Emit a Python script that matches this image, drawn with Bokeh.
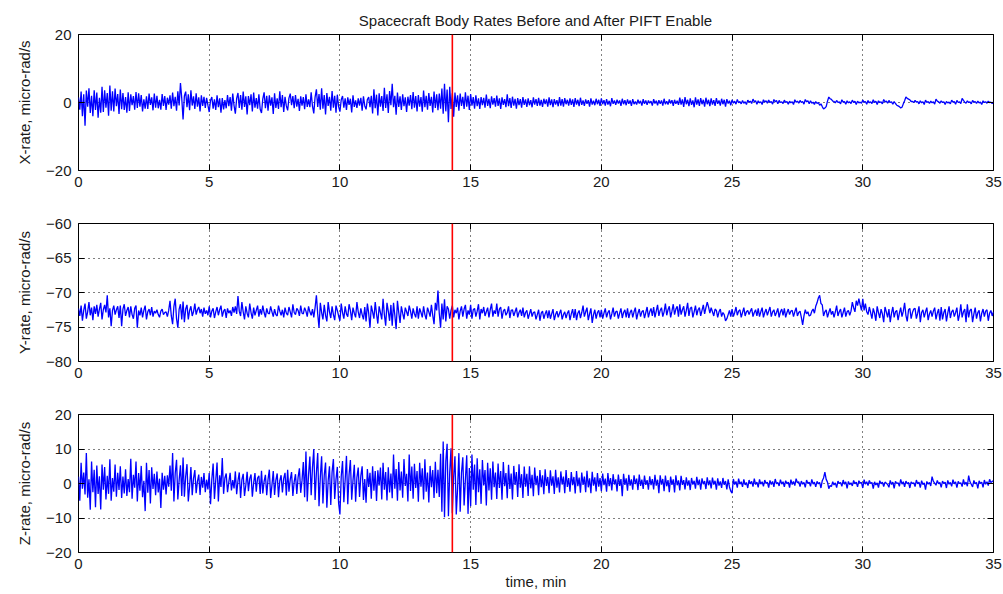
from bokeh.plotting import figure
from bokeh.models import Span, LinearAxis, FixedTicker, Range1d, ColumnDataSource
from bokeh.layouts import column
from bokeh.embed import file_html
from bokeh.resources import INLINE

# ---------------- data (one sample every 0.05 min) ----------------
SAMPLE_STEP_MIN = 0.05
PIFT_ENABLE_MIN = 14.3

# X-rate, micro-rad/s (one row = one minute)
x_rate = [
    1.5, -2.1, 3.2, -4.0, 2.4, -6.8, 3.5, -1.2, 4.2, -3.1, 2.0, -4.0, 3.6, -2.2, 2.9, -4.5, 1.4, -3.0, 4.6, -2.8,
    3.6, -1.5, 2.8, -3.9, 5.0, -2.4, 3.3, -2.6, 4.1, -1.1, 2.5, -3.4, 3.8, -2.0, 2.8, -2.2, 1.6, -3.0, 3.0, -2.5,
    2.4, -0.8, 1.9, -2.1, 3.1, -1.6, 2.7, -1.2, 2.2, -2.6, 0.9, -1.8, 1.8, -1.9, 2.6, -0.7, 1.5, -2.3, 2.6, -1.5,
    2.0, -1.7, 0.8, -2.1, 2.5, -1.0, 1.9, -2.2, 1.4, -0.6, 2.1, -1.8, 2.9, -1.1, 1.7, -2.4, 3.3, -0.9, 5.7, 1.2,
    -5.0, 1.9, 3.2, -1.4, 2.4, -2.3, 3.6, -0.9, 1.8, -1.9, 2.7, -1.2, 1.5, -2.6, 2.1, -1.0, 1.7, -1.6, 1.4, -0.8,
    -2.8, 0.6, 1.6, -1.8, 0.9, -2.2, 2.1, -1.4, 1.2, -3.0, 1.3, -2.0, 0.7, -1.7, 2.2, -1.1, 1.6, -2.4, 2.6, -0.9,
    -3.3, 1.2, 2.8, -1.6, 2.2, -2.1, 3.2, -1.3, 1.8, -3.5, 1.9, -0.8, 2.4, -2.6, 2.9, -1.5, 1.3, -1.8, 2.4, -2.0,
    -3.1, 1.1, 3.0, -1.7, 2.0, -2.4, 2.1, -0.9, 1.5, -3.4, 2.7, -1.6, 1.2, -1.9, 3.3, -1.4, 2.2, -2.8, 1.7, -1.0,
    -2.3, 1.3, 2.6, -0.8, 1.9, -1.7, 2.2, -1.2, 1.1, -2.5, 1.8, -0.9, 1.6, -2.0, 2.4, -1.3, 0.9, -1.4, 3.0, -1.1,
    -3.2, 1.6, 3.9, -1.3, 2.5, -2.1, 4.2, -1.8, 2.2, -3.5, 2.8, -1.0, 1.7, -2.4, 3.4, -1.5, 2.0, -3.0, 2.3, -1.2,
    -2.7, 0.8, 1.9, -1.5, 1.2, -2.2, 1.5, -0.7, 1.1, -2.9, 2.1, -1.3, 0.6, -1.6, 1.2, -0.9, 1.4, -2.4, 1.8, -1.0,
    -2.0, 0.9, 1.6, -1.4, 2.0, -3.2, 3.9, -1.7, 2.3, -3.8, 2.7, -1.2, 1.9, -2.5, 4.3, -1.6, 2.4, -3.1, 3.4, -0.8,
    5.5, -1.4, 2.0, -3.6, 2.9, -1.3, 1.8, -2.2, 2.4, -1.1, 1.5, -2.8, 1.7, -0.9, 2.2, -2.0, 3.1, -1.5, 1.9, -2.6,
    2.2, -1.2, 1.6, -2.7, 3.5, -1.4, 2.0, -2.1, 2.8, -1.0, 1.7, -2.9, 3.2, -1.6, 2.4, -2.3, 2.6, -1.8, 4.1, -3.3,
    5.5, -2.6, 3.8, -5.8, 4.6, -1.9, 2.7, -4.2, 2.9, -1.3, 2.1, -2.4, 2.6, -1.0, 1.7, -1.9, 3.0, -1.2, 2.0, -2.2,
    2.5, -0.9, 1.6, -1.8, 2.1, -1.1, 1.2, -1.9, 1.6, -0.8, 1.4, -1.5, 2.3, -1.0, 1.1, -1.7, 1.8, -0.6, 1.3, -1.2,
    2.0, -1.0, 1.2, -1.9, 1.5, -0.7, 1.0, -1.4, 2.4, -1.1, 1.3, -1.6, 1.7, -0.9, 1.1, -1.8, 1.3, -0.8, 1.0, -1.5,
    1.6, -0.7, 0.9, -1.3, 1.2, -0.8, 0.7, -1.4, 1.5, -0.6, 1.0, -1.0, 1.4, -0.9, 0.8, -1.3, 1.1, -0.5, 0.9, -1.2,
    1.5, -0.8, 0.9, -1.4, 1.0, -0.6, 0.7, -1.1, 1.6, -0.9, 1.0, -1.2, 1.3, -0.5, 0.8, -0.9, 1.2, -0.7, 0.9, -1.3,
    1.3, -0.6, 0.8, -1.1, 1.4, -0.7, 0.6, -1.0, 0.9, -0.4, 0.7, -1.2, 1.2, -0.6, 0.5, -0.8, 1.1, -0.5, 0.8, -1.0,
    1.2, -0.5, 0.7, -0.9, 1.0, -0.6, 0.5, -1.1, 1.3, -0.4, 0.6, -0.7, 0.8, -0.3, 0.6, -1.0, 1.1, -0.5, 0.7, -0.8,
    0.9, -0.4, 0.6, -1.0, 1.0, -0.5, 0.3, -0.6, 0.8, -0.3, 0.5, -0.9, 1.0, -0.4, 0.6, -0.7, 0.6, -0.2, 0.4, -0.9,
    1.0, -0.3, 0.5, -0.8, 0.7, -0.4, 0.6, -0.9, 1.1, -0.5, 0.4, -0.6, 0.9, -0.3, 0.7, -1.0, 0.8, -0.4, 0.5, -0.7,
    1.4, -0.6, 0.9, -1.3, 1.6, -0.5, 0.8, -1.1, 1.2, -0.7, 0.6, -1.4, 1.5, -0.6, 0.9, -1.0, 1.3, -0.5, 0.8, -1.2,
    1.4, -0.5, 0.8, -1.1, 1.2, -0.6, 0.7, -1.0, 1.3, -0.4, 0.6, -0.9, 1.1, -0.5, 0.8, -1.2, 1.0, -0.3, 0.5, -0.8,
    0.8, -0.2, 0.4, -0.5, 0.9, -0.1, 0.3, -0.4, 0.6, -0.2, 0.2, -0.6, 0.7, 0.1, 0.4, -0.3, 1.0, 0.2, 0.5, -0.5,
    0.5, -0.1, 0.2, -0.6, 0.8, 0.1, 0.5, -0.2, 0.7, 0.0, 0.3, -0.5, 0.9, 0.2, 0.6, -0.4, 0.6, 0.0, 0.2, -0.3,
    0.7, 0.0, 0.3, -0.5, 0.4, -0.1, 0.2, -0.6, 0.8, 0.1, 0.4, -0.2, 0.6, 0.0, 0.3, -0.5, 0.9, 0.2, 0.5, -0.4,
    0.5, -0.2, 0.1, -0.6, 0.3, -0.3, 0.0, -0.8, -0.4, -1.2, -1.9, -1.6, -1.2, 0.4, 1.6, 1.1, 0.9, 0.4, 0.3, -0.1,
    0.6, 0.0, 0.2, -0.4, 0.8, 0.1, 0.3, -0.5, 0.5, -0.1, 0.2, -0.3, 0.7, 0.0, 0.4, -0.6, 0.4, -0.1, 0.1, -0.2,
    0.7, 0.1, 0.3, -0.5, 0.6, -0.1, 0.2, -0.3, 0.8, 0.0, 0.4, -0.6, 0.5, 0.0, 0.2, -0.4, 0.9, 0.2, 0.4, -0.2,
    0.6, 0.0, 0.2, -0.5, 0.3, -0.3, -0.8, -1.0, -1.2, -1.6, -1.4, -0.4, 0.5, 1.6, 1.2, 1.0, 0.8, 0.3, 0.3, 0.0,
    0.6, 0.1, 0.3, -0.4, 0.5, -0.1, 0.2, -0.6, 0.7, 0.0, 0.3, -0.3, 0.4, -0.1, 0.2, -0.5, 1.0, 0.4, 0.2, -0.2,
    0.5, 0.0, 0.2, -0.6, 0.3, -0.1, 0.1, -0.4, 0.7, 0.1, 0.3, -0.5, 0.6, 0.0, 0.2, -0.3, 1.2, 0.6, 0.1, -0.2,
    0.5, 0.0, 0.2, -0.4, 0.6, 0.1, 0.3, -0.3, 0.4, -0.1, 0.1, -0.6, 0.5, 0.0, 0.2, -0.2, 0.4, 0.0, 0.1, -0.3,
    0.2,
]

# Y-rate, micro-rad/s
y_rate = [
    -72.3, -73.4, -71.9, -74.1, -72.6, -71.6, -73.8, -72.8, -71.4, -73.3, -72.2, -74.0, -72.0, -73.1, -71.8, -73.5, -72.4, -71.5, -73.9, -72.5,
    -71.8, -72.9, -70.4, -73.6, -72.3, -74.9, -72.6, -71.9, -73.2, -72.5, -72.0, -73.7, -71.9, -74.9, -72.4, -71.7, -73.4, -72.6, -72.1, -73.6,
    -72.0, -73.2, -73.8, -72.3, -71.9, -75.1, -72.6, -73.3, -72.2, -73.6, -72.6, -71.9, -73.9, -72.8, -72.4, -73.3, -72.1, -73.5, -72.7, -73.0,
    -72.5, -73.2, -73.6, -72.7, -72.4, -73.2, -72.9, -72.8, -73.5, -72.6, -71.2, -73.4, -74.6, -72.0, -70.9, -73.8, -75.1, -72.4, -71.7, -73.9,
    -71.3, -74.3, -72.4, -71.8, -73.9, -72.6, -72.0, -73.4, -72.8, -71.6, -73.2, -72.5, -72.1, -73.0, -72.4, -73.5, -72.2, -73.1, -72.6, -73.3,
    -72.0, -73.6, -72.7, -72.3, -73.7, -72.8, -72.1, -73.3, -72.5, -71.9, -73.5, -72.7, -72.4, -73.7, -72.3, -73.0, -72.6, -73.4, -72.1, -72.9,
    -72.0, -73.1, -70.5, -72.7, -73.4, -71.4, -72.8, -73.9, -72.0, -73.0, -73.6, -71.6, -72.9, -73.8, -72.2, -73.3, -72.6, -71.9, -73.5, -72.4,
    -73.2, -71.9, -72.9, -73.6, -72.3, -73.0, -73.1, -72.0, -72.8, -73.5, -72.4, -73.2, -73.4, -71.9, -72.7, -73.3, -72.5, -73.6, -72.2, -73.0,
    -73.3, -72.1, -72.8, -73.6, -71.7, -72.9, -73.2, -72.3, -72.6, -73.4, -71.9, -73.0, -73.1, -72.2, -72.7, -73.5, -72.0, -72.8, -73.3, -72.4,
    -73.6, -72.2, -70.4, -73.1, -75.1, -71.5, -72.9, -73.9, -71.8, -73.3, -74.2, -71.4, -72.8, -73.7, -72.0, -73.2, -74.0, -71.9, -72.6, -73.4,
    -74.1, -71.6, -72.9, -73.8, -72.0, -73.1, -73.5, -71.7, -72.6, -74.0, -72.2, -73.0, -73.6, -71.4, -72.8, -73.7, -72.3, -73.2, -73.9, -72.1,
    -74.2, -71.6, -73.0, -75.1, -71.9, -72.8, -73.8, -71.4, -73.1, -74.5, -72.0, -72.9, -73.9, -70.9, -73.2, -74.8, -71.5, -72.7, -74.1, -71.8,
    -74.8, -71.5, -73.3, -75.3, -71.2, -72.9, -74.4, -72.0, -73.0, -73.9, -72.2, -72.8, -73.4, -71.9, -72.7, -73.8, -72.3, -73.1, -73.6, -72.0,
    -73.8, -72.3, -72.9, -73.6, -72.0, -73.2, -73.9, -72.2, -72.8, -73.5, -71.8, -73.3, -74.6, -71.5, -72.6, -69.7, -73.0, -75.1, -71.6, -73.9,
    -71.0, -74.2, -72.0, -72.4, -73.8, -72.6, -71.9, -73.6, -72.5, -73.0, -72.2, -73.9, -72.7, -72.0, -73.5, -72.4, -71.8, -73.8, -72.6, -73.2,
    -71.8, -73.8, -72.5, -72.3, -73.5, -72.7, -71.7, -73.9, -72.4, -73.0, -72.1, -73.4, -72.8, -72.2, -73.6, -72.5, -71.6, -73.5, -72.6, -73.1,
    -71.6, -73.5, -72.4, -72.1, -73.8, -72.7, -72.4, -73.3, -72.9, -72.0, -73.7, -72.6, -72.5, -73.4, -72.8, -72.2, -73.6, -72.9, -72.5, -73.4,
    -72.2, -73.6, -72.9, -72.6, -73.8, -73.1, -72.4, -73.5, -72.9, -72.8, -73.9, -73.2, -72.5, -74.1, -73.0, -72.7, -73.8, -73.1, -72.6, -73.7,
    -72.6, -73.8, -73.1, -72.4, -74.0, -73.2, -72.7, -73.6, -73.0, -72.5, -73.9, -73.2, -72.8, -73.7, -73.0, -72.6, -74.0, -73.1, -72.4, -73.7,
    -72.4, -74.0, -73.0, -72.6, -73.7, -72.9, -71.9, -73.5, -72.8, -72.2, -74.0, -73.1, -72.3, -74.4, -73.2, -72.5, -73.8, -72.9, -72.6, -73.6,
    -72.5, -73.8, -73.0, -72.3, -73.6, -72.9, -72.6, -73.9, -73.1, -72.2, -73.5, -72.8, -72.7, -73.8, -73.0, -72.3, -73.7, -72.9, -72.5, -73.6,
    -72.3, -73.7, -72.9, -72.5, -73.6, -72.8, -72.2, -73.9, -73.0, -72.4, -73.5, -72.8, -72.6, -73.7, -72.9, -72.1, -73.6, -72.8, -72.3, -73.4,
    -72.1, -73.6, -72.7, -71.8, -73.4, -72.6, -72.2, -73.5, -72.8, -71.6, -73.3, -72.5, -72.0, -73.6, -72.7, -71.7, -73.2, -72.4, -72.0, -73.5,
    -71.7, -73.2, -72.5, -72.0, -73.5, -72.6, -71.5, -73.4, -72.3, -72.1, -73.6, -72.8, -71.9, -73.3, -72.5, -72.2, -73.4, -72.6, -71.8, -73.1,
    -72.2, -71.4, -72.1, -73.0, -72.2, -72.8, -73.4, -72.4, -72.6, -73.6, -72.8, -72.4, -73.5, -72.9, -73.2, -74.1, -73.8, -73.2, -72.6, -73.5,
    -72.4, -73.5, -72.9, -72.1, -73.3, -72.7, -72.5, -73.6, -72.9, -72.2, -73.4, -72.8, -72.6, -73.2, -72.7, -72.3, -73.5, -72.9, -72.5, -73.4,
    -72.3, -73.5, -72.8, -72.2, -73.6, -72.9, -72.4, -73.3, -72.7, -72.1, -73.5, -72.8, -72.5, -73.4, -72.9, -72.3, -73.6, -72.8, -72.4, -73.3,
    -72.3, -73.6, -72.9, -72.4, -73.2, -72.7, -72.6, -73.5, -72.8, -72.2, -73.4, -72.9, -72.7, -73.6, -74.7, -73.4, -72.5, -73.1, -72.8, -73.4,
    -73.3, -72.7, -72.4, -73.0, -72.0, -71.5, -70.8, -70.4, -71.6, -71.8, -73.4, -72.8, -72.5, -73.6, -72.9, -72.3, -73.2, -72.7, -73.6, -72.8,
    -71.9, -73.4, -72.8, -72.4, -73.6, -72.9, -72.2, -73.5, -72.8, -72.6, -73.3, -72.7, -71.4, -72.2, -72.8, -71.2, -71.9, -70.9, -71.8, -72.6,
    -70.9, -72.6, -71.6, -72.8, -73.2, -72.1, -72.9, -73.8, -72.3, -73.0, -74.1, -72.0, -72.9, -73.7, -72.4, -73.1, -74.3, -72.1, -72.8, -73.6,
    -72.4, -74.3, -73.0, -72.1, -73.6, -72.8, -72.6, -74.0, -73.0, -72.2, -73.5, -72.7, -71.5, -73.3, -74.2, -72.5, -72.3, -73.8, -72.9, -72.4,
    -72.3, -73.8, -73.0, -72.0, -74.3, -72.9, -72.5, -73.6, -72.8, -72.2, -74.0, -73.1, -72.6, -73.5, -72.7, -72.2, -73.9, -73.0, -72.4, -74.1,
    -72.1, -73.9, -72.9, -72.4, -74.2, -73.0, -72.0, -73.7, -72.8, -72.5, -73.5, -72.9, -72.2, -74.1, -73.2, -71.7, -73.6, -72.8, -72.4, -74.3,
    -71.7, -73.6, -72.6, -72.4, -74.3, -73.1, -72.2, -73.8, -72.9, -72.6, -74.2, -73.0, -72.4, -73.5, -72.7, -72.5, -74.1, -73.0, -72.6, -73.4,
    -72.8,
]

# Z-rate, micro-rad/s
z_rate = [
    2.0, -5.0, 6.0, -1.5, 3.2, -3.2, 8.8, -4.1, 1.2, -7.6, 6.4, -2.5, 4.0, -6.9, 5.2, -3.0, 2.1, -7.5, 5.5, -1.8,
    4.8, -4.6, 2.2, -3.0, 7.0, -5.0, 1.6, -2.4, 5.5, -3.8, 3.1, -1.9, 5.0, -4.2, 2.0, -2.9, 4.1, -3.6, 1.3, -2.5,
    7.2, -4.4, 2.5, -1.2, 6.4, -5.2, 3.0, -2.1, 5.1, -4.0, 0.8, -8.0, 6.0, -2.7, 3.9, -5.8, 4.7, -1.6, 2.8, -3.4,
    3.5, -2.6, 1.4, -7.1, 3.1, -1.8, 2.2, -3.2, 2.4, -0.9, 5.2, -2.1, 8.8, -5.2, 3.0, 6.9, -4.6, 1.0, 5.3, -3.6,
    7.5, -3.8, 2.1, 5.6, -5.2, -0.8, 4.8, -3.4, 1.5, 3.9, -2.8, 0.6, 2.6, -3.3, 1.9, -1.2, 3.0, -2.5, 1.1, -1.7,
    3.0, -6.0, 1.2, 5.8, -4.5, 0.9, 6.1, -5.2, 2.4, -1.0, 7.4, -3.0, 1.6, 2.9, -2.5, 0.4, 3.1, -2.0, 1.0, -1.4,
    3.5, -3.1, 0.8, 3.2, -4.2, 1.1, 2.8, -3.6, -0.5, 3.4, -2.2, 1.4, 2.6, -3.8, 0.2, 3.0, -2.4, 1.6, 2.2, -3.0,
    3.7, -2.9, 0.6, 2.5, -3.4, 1.2, 4.0, -4.2, -0.4, 3.6, -3.3, 1.0, 2.9, -4.0, 0.8, 2.4, -2.6, 1.5, 3.1, -3.5,
    4.0, -2.4, 1.2, 3.3, -3.6, 0.5, 2.7, -3.0, 1.8, 4.4, -2.7, 0.9, 6.2, -4.0, 9.3, -5.2, 2.6, 7.8, -3.4, 4.6,
    10.0, -4.8, 3.2, 8.8, -6.6, 1.9, 7.9, -5.8, 2.4, 6.1, -7.0, 0.8, 5.0, -6.2, 3.3, 7.1, -4.5, 1.2, 4.8, -5.7,
    -9.0, 2.1, 6.5, -5.4, 1.0, 8.0, -6.0, 2.6, 6.8, -4.7, 0.9, 5.4, -5.3, 1.8, 4.6, -3.9, 2.2, 5.0, -4.8, 1.3,
    -5.6, 4.2, -1.0, 3.1, -4.4, 5.0, -2.1, 3.6, -5.1, 3.8, -0.6, 4.6, -4.6, 6.0, -1.8, 3.3, -4.9, 4.7, -2.6, 2.9,
    -4.3, 8.4, -1.5, 4.2, -5.0, 6.2, -2.0, 3.5, -4.1, 7.1, -0.7, 2.8, -5.2, 8.4, -2.2, 4.9, -4.4, 5.7, -1.3, 3.6,
    -5.3, 6.0, -0.9, 4.4, -4.6, 7.0, -2.4, 3.2, -5.5, 5.1, -1.1, 3.9, -4.2, 6.3, -2.8, 4.0, -3.9, 8.6, -8.2, 12.2,
    -9.8, 6.4, 11.5, -9.5, 3.2, 10.2, -8.6, 2.0, 7.9, -9.0, -1.5, 8.8, -8.2, 3.1, 7.6, -6.4, 1.2, 8.2, -8.8, 4.5,
    -6.6, 8.4, -1.8, 5.5, -6.2, 7.3, -2.5, 4.1, -5.9, 6.8, -0.6, 3.9, -6.4, 6.0, -2.0, 4.4, -4.7, 6.4, -1.1, 3.2,
    -4.5, 5.8, -1.3, 3.6, -4.7, 6.2, -0.8, 3.0, -4.3, 5.4, -1.6, 2.9, -4.6, 5.1, -0.4, 3.3, -3.9, 5.6, -1.2, 2.7,
    -4.2, 4.9, -0.9, 2.8, -3.6, 5.0, -1.4, 2.5, -3.7, 4.6, -0.5, 2.2, -3.4, 3.9, -1.1, 2.4, -3.1, 4.1, -0.7, 1.9,
    -2.8, 3.8, -0.6, 2.1, -3.0, 4.0, -1.2, 1.8, -2.6, 3.5, -0.3, 2.0, -2.8, 3.9, -1.0, 1.6, -2.4, 3.3, -0.5, 1.9,
    -2.9, 3.6, -0.8, 1.7, -2.7, 3.2, -0.4, 2.0, -2.5, 3.7, -1.1, 1.5, -2.8, 3.4, -0.6, 1.8, -2.3, 3.0, -0.9, 1.6,
    -2.2, 2.9, -0.5, 1.4, -2.4, 3.0, -0.8, 1.6, -2.0, 2.7, -0.3, 1.2, -2.3, 2.6, -0.7, 1.3, -3.7, 2.8, -0.4, 1.5,
    -2.1, 2.5, -0.6, 1.2, -1.8, 2.4, -0.2, 1.4, -1.9, 2.6, -0.7, 1.1, -1.6, 2.3, -0.4, 1.0, -1.8, 2.1, -0.5, 1.3,
    -1.7, 2.5, -0.6, 1.1, -2.8, 2.4, -0.3, 1.3, -2.2, 2.3, -0.8, 1.0, -2.5, 2.0, -0.4, 1.2, -2.6, 2.4, -0.5, 0.9,
    -2.0, 2.2, -0.4, 1.0, -1.7, 1.8, -0.6, 0.9, -1.9, 1.6, -0.3, 0.8, -1.5, 1.9, -0.5, 1.1, -1.8, 1.5, -0.2, 0.7,
    -1.6, 1.8, -0.5, 0.9, -1.4, 1.7, -0.3, 0.8, -1.8, 1.5, -0.6, 0.6, -1.3, 1.6, -0.4, 0.7, -1.7, 1.2, -1.0, -2.2,
    -2.8, 1.3, -0.3, 0.6, -1.2, 1.4, -0.2, 0.5, -1.0, 1.2, -0.4, 0.3, -1.3, 1.0, -0.1, 0.6, -0.9, 1.4, -0.3, 0.4,
    -1.1, 1.2, -0.2, 0.5, -0.8, 1.0, 0.0, 0.4, -1.2, 0.9, -0.3, 0.6, -1.0, 1.3, -0.1, 0.3, -0.7, 1.1, -0.2, 0.5,
    -1.0, 0.8, -0.1, 0.4, -1.2, 1.1, -0.3, 0.6, -0.6, 1.4, 0.2, 0.5, -0.9, 0.7, -0.2, 0.3, -1.1, 1.0, 0.0, 0.4,
    -0.8, 1.2, -0.2, 0.4, -1.0, 0.6, -0.1, 0.3, -1.3, 0.8, 1.6, 3.3, 1.2, 0.4, -1.5, -0.6, -0.9, 0.5, -0.4, 0.2,
    -1.2, 0.7, 0.0, 0.3, -0.8, 1.0, -0.2, 0.5, -1.4, 0.6, -0.3, 0.2, -0.7, 0.9, -0.1, 0.4, -1.0, 0.8, 0.1, 0.3,
    -1.3, 1.1, -0.2, 0.5, -0.6, 0.9, 0.0, 0.3, -1.5, 0.5, -0.4, 0.2, -1.2, 0.8, -0.1, 0.4, -0.9, 0.4, 0.1, -0.3,
    -1.1, 0.9, -0.3, 0.4, -1.4, 0.6, 0.0, 0.2, -0.8, 1.2, -0.2, 0.5, -1.0, 0.7, -0.1, 0.3, -1.3, 0.5, 0.0, 0.2,
    -0.9, 1.0, -0.1, 0.4, -1.2, 0.8, -0.3, 0.2, -1.8, 0.6, -0.2, 0.3, -0.7, 2.0, 0.6, 0.1, -0.5, 0.9, -0.1, 0.3,
    -1.1, 0.7, 0.0, 0.4, -1.3, 0.9, -0.2, 0.3, -0.8, 1.1, -0.1, 0.5, -1.2, 0.6, 0.0, 0.2, -0.9, 1.2, -0.3, 0.4,
    -0.8, 2.3, 0.5, -0.2, -1.0, 0.9, -0.1, 0.3, -1.4, 0.8, 0.0, 0.4, -1.1, 1.0, -0.2, 0.5, -0.6, 1.2, 0.3, 0.6,
    0.8,
]

x_ticks = [0, 5, 10, 15, 20, 25, 30, 35]
x_limits = (0, 35)
x_yticks = [-20, 0, 20]
y_yticks = [-80, -75, -70, -65, -60]
z_yticks = [-20, -10, 0, 10, 20]

TITLE = "Spacecraft Body Rates Before and After PIFT Enable"
X_LABEL = "time, min"

# ---------------- styling ----------------
FONT = "Liberation Sans"
FS = "15px"
TXT = "#1a1a1a"
W = 1003


def times_for(values):
    return [round(i * SAMPLE_STEP_MIN, 2) for i in range(len(values))]


def add_mirror_axis(p, ticks, side):
    ax = LinearAxis(ticker=FixedTicker(ticks=ticks))
    ax.major_label_overrides = {t: "" for t in ticks}
    ax.major_label_text_font_size = "8px"
    ax.major_label_standoff = 0
    ax.major_tick_in = 6
    ax.major_tick_out = 0
    ax.minor_tick_line_color = None
    ax.axis_line_color = None
    ax.major_tick_line_color = "black"
    p.add_layout(ax, side)


def panel(values, ylabel, yrange, yticks, height, top, bottom, title=None, xlabel=None):
    p = figure(width=W, height=height, output_backend="svg", toolbar_location=None,
               x_range=Range1d(*x_limits), y_range=Range1d(*yrange),
               min_border_left=78, min_border_right=10,
               min_border_top=top, min_border_bottom=bottom)
    p.background_fill_color = "white"
    p.border_fill_color = "white"
    p.outline_line_color = "black"
    p.outline_line_width = 1

    src = ColumnDataSource(dict(t=times_for(values), v=values))
    p.line("t", "v", source=src, line_color="#0000FF", line_width=1.3)
    p.add_layout(Span(location=PIFT_ENABLE_MIN, dimension="height",
                      line_color="#FF0000", line_width=1.6))

    for ax in (p.xaxis[0], p.yaxis[0]):
        ax.major_tick_in = 6
        ax.major_tick_out = 0
        ax.minor_tick_line_color = None
        ax.axis_line_color = None
        ax.major_tick_line_color = "black"
        ax.major_label_text_font = FONT
        ax.major_label_text_font_size = FS
        ax.major_label_text_color = TXT
        ax.axis_label_text_font = FONT
        ax.axis_label_text_font_size = FS
        ax.axis_label_text_font_style = "normal"
        ax.axis_label_text_color = TXT
    p.xaxis[0].ticker = FixedTicker(ticks=x_ticks)
    p.yaxis[0].ticker = FixedTicker(ticks=yticks)
    p.xaxis[0].major_label_standoff = 6
    p.yaxis[0].major_label_standoff = 7
    p.yaxis[0].axis_label = ylabel
    p.yaxis[0].axis_label_standoff = 10
    if xlabel:
        p.xaxis[0].axis_label = xlabel
        p.xaxis[0].axis_label_standoff = 1

    add_mirror_axis(p, x_ticks, "above")
    add_mirror_axis(p, yticks, "right")

    p.xgrid.grid_line_color = "black"
    p.xgrid.grid_line_dash = "1 4"
    p.xgrid.grid_line_width = 1
    p.ygrid.grid_line_color = "black"
    p.ygrid.grid_line_dash = "1 4"
    p.ygrid.grid_line_width = 1

    if title:
        p.title.text = title
        p.title.align = "center"
        p.title.vertical_align = "middle"
        p.title.text_font = FONT
        p.title.text_font_size = FS
        p.title.text_font_style = "normal"
        p.title.text_color = TXT
    return p


p1 = panel(x_rate, "X-rate, micro-rad/s", (-20, 20), x_yticks, 196, 34, 26, title=TITLE)
p2 = panel(y_rate, "Y-rate, micro-rad/s", (-80, -60), y_yticks, 191, 27, 26)
p3 = panel(z_rate, "Z-rate, micro-rad/s", (-20, 20), z_yticks, 207, 27, 42, xlabel=X_LABEL)

layout = column(p1, p2, p3, spacing=0)
open("out.html", "w").write(file_html(layout, INLINE))
